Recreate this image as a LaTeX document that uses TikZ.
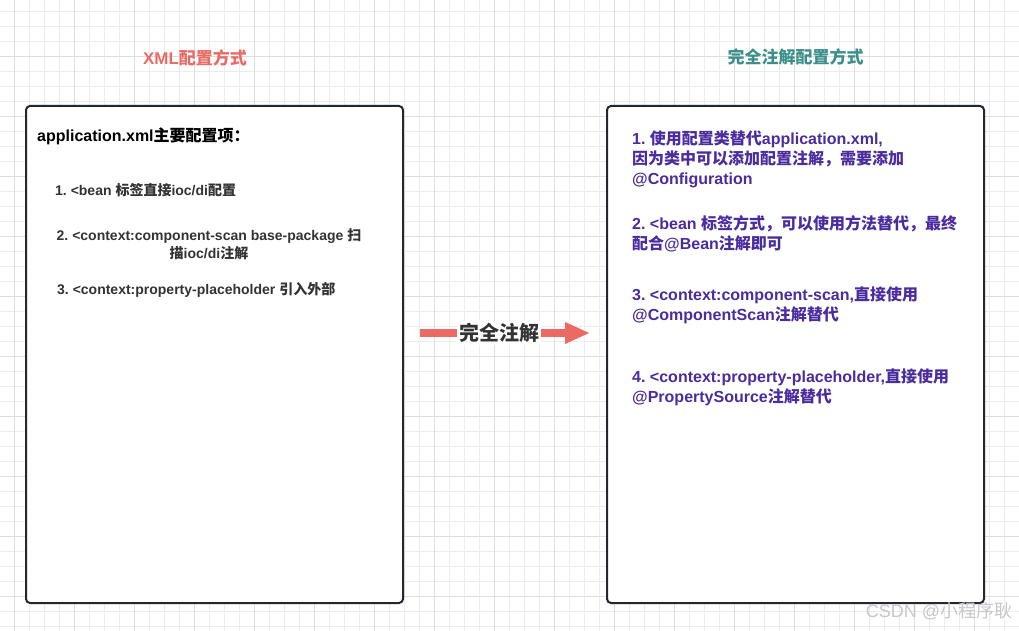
\documentclass[tikz,border=0pt]{standalone}
\usepackage{fontspec}
\setmainfont{Liberation Sans}
\newfontfamily\cjk{Noto Sans CJK SC}
\usetikzlibrary{arrows.meta}

\XeTeXinterchartokenstate=1
\chardef\cjkclass=3
\newcount\cjkchar
\newcommand\cjkrange[2]{\cjkchar=#1\relax
	\loop\XeTeXcharclass\cjkchar=\cjkclass
	\ifnum\cjkchar<#2\relax\advance\cjkchar by 1\repeat}
\cjkrange{"3000}{"303F}
\cjkrange{"4E00}{"9FFF}
\cjkrange{"FF00}{"FFEF}
\XeTeXinterchartoks 0 \cjkclass = {\cjk}
\XeTeXinterchartoks 4095 \cjkclass = {\cjk}
\XeTeXinterchartoks \cjkclass 0 = {\rmfamily}
\XeTeXinterchartoks \cjkclass 4095 = {\rmfamily}
\frenchspacing

\definecolor{xmlred}{HTML}{EA6B66}
\definecolor{annoteal}{HTML}{3A8F8A}
\definecolor{annopurple}{HTML}{4A2C9F}
\definecolor{panelline}{HTML}{23272E}
\definecolor{itemgray}{HTML}{333333}
\definecolor{gridminor}{HTML}{ECECEC}
\definecolor{gridmajor}{HTML}{DEDEDE}
\definecolor{markgray}{HTML}{C8C8C8}

\begin{document}
\begin{tikzpicture}[x=1pt, y=-1pt,
					panel/.style={draw=panelline, line width=2pt, rounded corners=4pt, fill=white,
						minimum width=377pt, minimum height=497pt},
					title/.style={font=\bfseries\fontsize{17}{20}\selectfont},
					heading/.style={anchor=west, inner sep=0pt, font=\bfseries\fontsize{16}{19}\selectfont},
					xmlitem/.style={anchor=west, inner sep=0pt, text=itemgray, font=\bfseries\fontsize{14}{17.7}\selectfont},
					annoitem/.style={anchor=west, align=left, inner sep=0pt, text=annopurple,
						font=\bfseries\fontsize{16}{20}\selectfont},
					bigarrow/.style={draw=xmlred, line width=8pt, -{Triangle[length=25pt, width=20pt]}},
					arrowlabel/.style={fill=white, inner sep=2pt, text=itemgray, font=\bfseries\fontsize{20}{24}\selectfont},
					watermark/.style={text=markgray, font=\fontsize{18}{20}\selectfont}]
					\useasboundingbox (0,0) rectangle (1019,631);
					\fill[white] (0,0) rectangle (1019,631);
					\foreach \x in {14.5,29.5,...,1010} \draw[gridminor] (\x,0) -- (\x,631);
					\foreach \y in {11.5,26.5,...,631} \draw[gridminor] (0,\y) -- (1019,\y);
					\foreach \x in {14.5,74.5,...,1010} \draw[gridmajor] (\x,0) -- (\x,631);
					\foreach \y in {56.5,116.5,...,631} \draw[gridmajor] (0,\y) -- (1019,\y);

					\node[title, text=xmlred] (xmltitle) at (195,57.5) {XML配置方式};
					\node[title, text=annoteal] (annotitle) at (795.5,57) {完全注解配置方式};

					\node[panel] (xmlpanel) at (214.5,354.5) {};
					\node[panel] (annopanel) at (795.5,354.5) {};

					\node[heading] (xmlhead) at (37,136) {application.xml主要配置项：};
					\node[xmlitem] (bean) at (55,190.5) {1. <bean 标签直接ioc/di配置};
					\node[xmlitem, anchor=center, align=center] (scan) at (209,244)
					{2. <context:component-scan base-package 扫\\描ioc/di注解};
					\node[xmlitem] (holder) at (57,290) {3. <context:property-placeholder 引入外部};

					\node[annoitem] (configclass) at (632,159.5)
					{1. 使用配置类替代application.xml,\\因为类中可以添加配置注解，需要添加\\@Configuration};
					\node[annoitem] (beanmethod) at (632,233.3)
					{2. <bean 标签方式，可以使用方法替代，最终\\配合@Bean注解即可};
					\node[annoitem] (compscan) at (632,305)
					{3. <context:component-scan,直接使用\\@ComponentScan注解替代};
					\node[annoitem] (propsource) at (632,387.7)
					{4. <context:property-placeholder,直接使用\\@PropertySource注解替代};

					\coordinate (arrowstart) at (420,333);
					\coordinate (arrowend) at (590,333);
					\draw[bigarrow] (arrowstart) -- node[arrowlabel, pos=0.465] (arrowtext) {完全注解} (arrowend);

					\node[watermark] (csdn) at (939,611.5) {CSDN @小程序耿};
				\end{tikzpicture}
\end{document}
